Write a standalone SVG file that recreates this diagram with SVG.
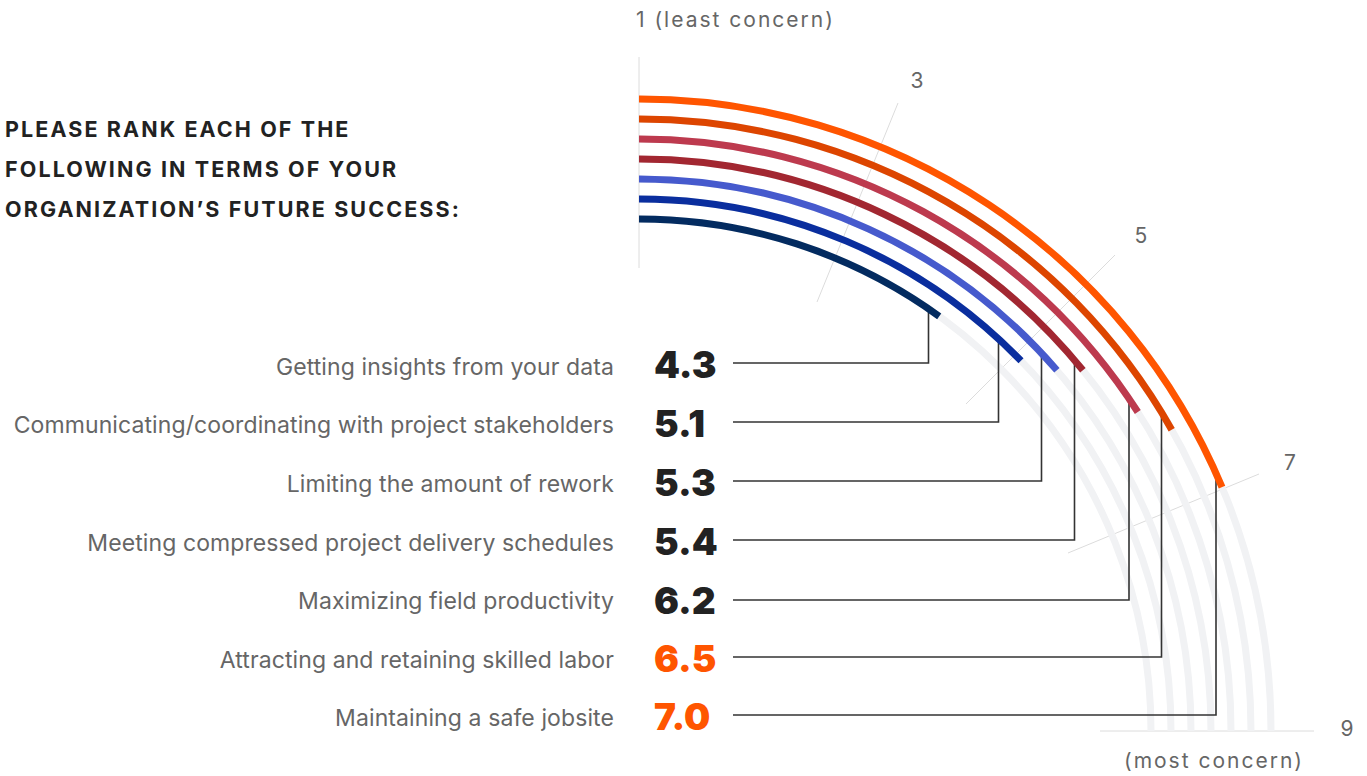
<svg xmlns="http://www.w3.org/2000/svg" width="1367" height="776" viewBox="0 0 1367 776">
<style>
.bg{fill:none;stroke:#f1f2f4;stroke-width:7}
.arc{fill:none;stroke-width:7}
.tick{stroke:#dcdcdc;stroke-width:1;fill:none}
.lead{fill:none;stroke:#333;stroke-width:1.6}
.ax{font-family:Inter,"Liberation Sans",sans-serif;font-size:21px;fill:#666}
.axs{letter-spacing:2px}
.lbl{font-family:Inter,"Liberation Sans",sans-serif;font-size:23px;fill:#666;text-anchor:end;letter-spacing:0.1px}
.num{font-family:Inter,"Liberation Sans",sans-serif;font-size:37px;font-weight:900;fill:#222}
.hot{fill:#ff5500}
.ttl{font-family:Inter,"Liberation Sans",sans-serif;font-size:21.5px;font-weight:700;fill:#222;letter-spacing:2.1px}
</style>
<rect width="1367" height="776" fill="#fff"/>
<g id="title">
<text class="ttl" x="5" y="137">PLEASE RANK EACH OF THE</text>
<text class="ttl" x="5" y="177">FOLLOWING IN TERMS OF YOUR</text>
<text class="ttl" x="5" y="217">ORGANIZATION’S FUTURE SUCCESS:</text>
</g>
<g id="axis">
<line class="tick" x1="639" y1="57" x2="639" y2="268"/>
<line class="tick" x1="817" y1="302" x2="898" y2="103"/>
<line class="tick" x1="966" y1="404" x2="1115" y2="255"/>
<line class="tick" x1="1068" y1="553" x2="1259" y2="474"/>
<line class="tick" x1="1100" y1="731" x2="1314" y2="731"/>
<text class="ax axs" x="636" y="27">1 (least concern)</text>
<text class="ax" x="917" y="88" text-anchor="middle">3</text>
<text class="ax" x="1141" y="243" text-anchor="middle">5</text>
<text class="ax" x="1290" y="470" text-anchor="middle">7</text>
<text class="ax" x="1347" y="736" text-anchor="middle">9</text>
<text class="ax axs" x="1214" y="768" text-anchor="middle">(most concern)</text>
</g>
<g id="tracks">
<path class="bg" d="M639 99 A632 632 0 0 1 1271 731"/>
<path class="bg" d="M639 119 A612 612 0 0 1 1251 731"/>
<path class="bg" d="M639 139 A592 592 0 0 1 1231 731"/>
<path class="bg" d="M639 159 A572 572 0 0 1 1211 731"/>
<path class="bg" d="M639 179 A552 552 0 0 1 1191 731"/>
<path class="bg" d="M639 199 A532 532 0 0 1 1171 731"/>
<path class="bg" d="M639 219 A512 512 0 0 1 1151 731"/>
</g>
<g id="connectors">
<path class="lead" d="M928.5 309 V363 H733"/>
<path class="lead" d="M998.5 339 V422 H733"/>
<path class="lead" d="M1041.5 354 V481 H733"/>
<path class="lead" d="M1074.5 360 V540 H733"/>
<path class="lead" d="M1129 399 V600 H733"/>
<path class="lead" d="M1161.5 413 V657 H733"/>
<path class="lead" d="M1216 473 V715 H733"/>
</g>
<g id="bar-7-0"><path class="arc" stroke="#ff5500" d="M639 99 A632 632 0 0 1 1222 487.1"/></g>
<g id="bar-6-5"><path class="arc" stroke="#dd4500" d="M639 119 A612 612 0 0 1 1171.7 429.7"/></g>
<g id="bar-6-2"><path class="arc" stroke="#bd3a4e" d="M639 139 A592 592 0 0 1 1137.8 412"/></g>
<g id="bar-5-4"><path class="arc" stroke="#a22731" d="M639 159 A572 572 0 0 1 1082.9 370.2"/></g>
<g id="bar-5-3"><path class="arc" stroke="#465acd" d="M639 179 A552 552 0 0 1 1056.9 370.3"/></g>
<g id="bar-5-1"><path class="arc" stroke="#0a2e9e" d="M639 199 A532 532 0 0 1 1021 360.8"/></g>
<g id="bar-4-3"><path class="arc" stroke="#032b60" d="M639 219 A512 512 0 0 1 939.2 316.3"/></g>
<g id="row-1"><text class="lbl" x="614" y="375">Getting insights from your data</text><text class="num" x="654" y="378">4.3</text></g>
<g id="row-2"><text class="lbl" x="614" y="433">Communicating/coordinating with project stakeholders</text><text class="num" x="654" y="437">5.1</text></g>
<g id="row-3"><text class="lbl" x="614" y="492">Limiting the amount of rework</text><text class="num" x="654" y="496">5.3</text></g>
<g id="row-4"><text class="lbl" x="614" y="551">Meeting compressed project delivery schedules</text><text class="num" x="654" y="555">5.4</text></g>
<g id="row-5"><text class="lbl" x="614" y="609">Maximizing field productivity</text><text class="num" x="654" y="614">6.2</text></g>
<g id="row-6"><text class="lbl" x="614" y="668">Attracting and retaining skilled labor</text><text class="num hot" x="654" y="672">6.5</text></g>
<g id="row-7"><text class="lbl" x="614" y="726">Maintaining a safe jobsite</text><text class="num hot" x="654" y="730">7.0</text></g>
</svg>
